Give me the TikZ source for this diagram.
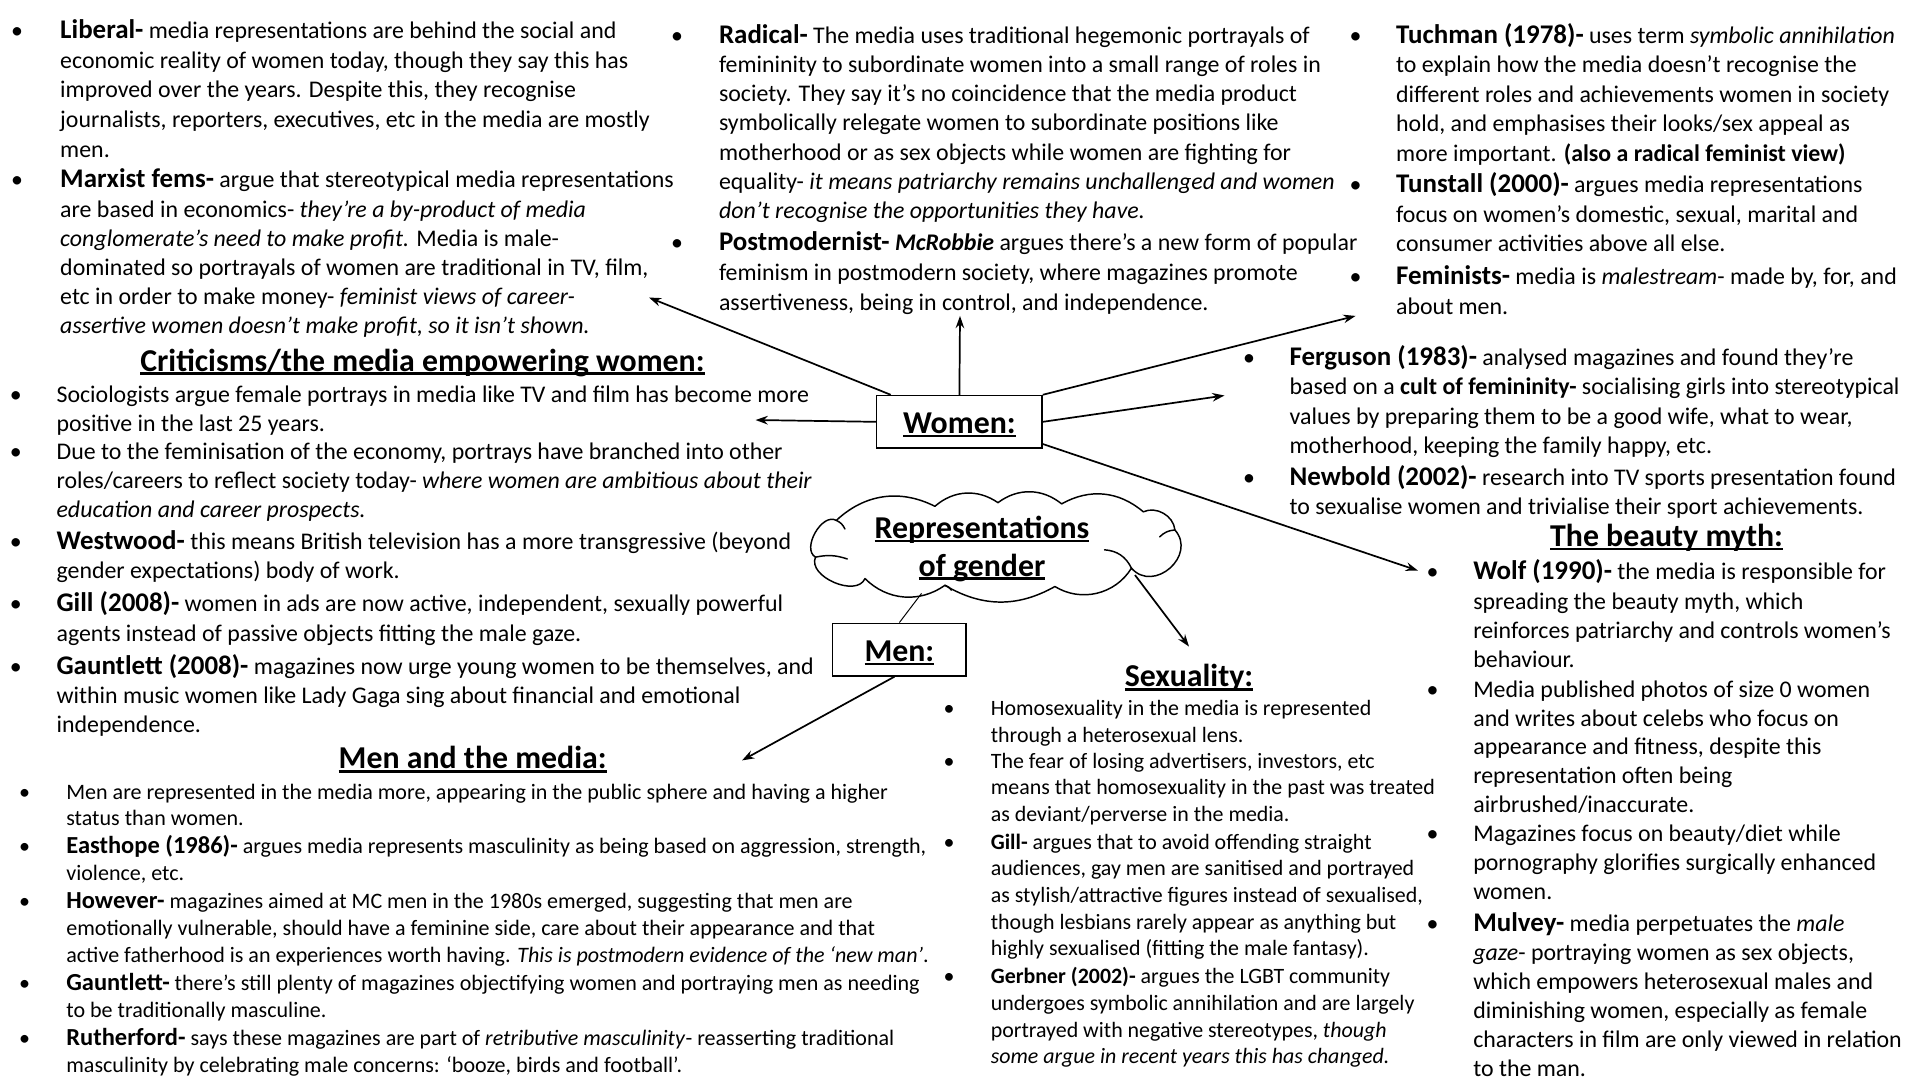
\documentclass[tikz,border=0pt]{standalone}
\usepackage{fontspec}
\setmainfont{Carlito}
\usetikzlibrary{arrows.meta}

\newcommand\LN[1]{\hbox{#1}}
\newcommand\ulx[1]{\setbox0\hbox{#1}\rlap{\rule[-0.12em]{\wd0}{0.075em}}\box0}
\newcommand\bh[1]{{\fontsize{22}{26}\selectfont\bfseries #1}}
\newcommand\bhm[1]{{\fontsize{20}{24}\selectfont\bfseries #1}}
\newcommand\bitem[7]{%
 \node[#1,anchor=base] (#2b) at (#3,{#5+1.5}) {\textbullet};
 \node[#1,anchor=base west] (#2) at (#4,{#5+1.5}) {\vtop{\baselineskip=#6pt\lineskiplimit=-\maxdimen\lineskip=0pt\relax #7}};}

\tikzset{
 body/.style={inner sep=0pt, font=\fontsize{19.5}{24}\selectfont},
 sexb/.style={inner sep=0pt, font=\fontsize{17.9}{21.8}\selectfont},
 menb/.style={inner sep=0pt, font=\fontsize{18}{22}\selectfont},
 head/.style={inner sep=0pt, font=\fontsize{26}{31}\selectfont\bfseries},
 box/.style={draw, line width=1.2pt, inner sep=0pt, text height=19pt, text depth=0pt, font=\fontsize{26}{31}\selectfont\bfseries},
 arr/.style={line width=1.4pt, -{Stealth[length=10pt,width=7pt]}},
 cloudline/.style={line width=1.2pt, line cap=round, line join=round},
}

\begin{document}
\begin{tikzpicture}[x=1pt, y=-1pt]
\fill[white] (0,0) rectangle (1568,882);
\useasboundingbox (0,0) rectangle (1568,882);

% ---------- top left
\bitem{body}{lib}{14}{49}{30}{24.2}{\LN{\bh{Liberal-} media representations are behind the social and}\LN{economic reality of women today, though they say this has}\LN{improved over the years. Despite this, they recognise}\LN{journalists, reporters, executives, etc in the media are mostly}\LN{men.}}
\bitem{body}{marx}{14}{49}{152}{23.8}{\LN{\bh{Marxist fems-} argue that stereotypical media representations}\LN{are based in economics- \textit{they’re a by-product of media}}\LN{\textit{conglomerate’s need to make profit.} Media is male-}\LN{dominated so portrayals of women are traditional in TV, film,}\LN{etc in order to make money- \textit{feminist views of career-}}\LN{\textit{assertive women doesn’t make profit, so it isn’t shown.}}}

% ---------- top middle
\bitem{body}{rad}{553}{587}{34}{23.8}{\LN{\bh{Radical-} The media uses traditional hegemonic portrayals of}\LN{femininity to subordinate women into a small range of roles in}\LN{society. They say it’s no coincidence that the media product}\LN{symbolically relegate women to subordinate positions like}\LN{motherhood or as sex objects while women are fighting for}\LN{equality- \textit{it means patriarchy remains unchallenged and women}}\LN{\textit{don’t recognise the opportunities they have.}}}
\bitem{body}{pomo}{553}{587}{203}{24.5}{\LN{\bh{Postmodernist-} \textbf{\textit{McRobbie}} argues there’s a new form of popular}\LN{feminism in postmodern society, where magazines promote}\LN{assertiveness, being in control, and independence.}}

% ---------- top right
\bitem{body}{tuch}{1107}{1140}{34}{24}{\LN{\bh{Tuchman (1978)-} uses term \textit{symbolic annihilation}}\LN{to explain how the media doesn’t recognise the}\LN{different roles and achievements women in society}\LN{hold, and emphasises their looks/sex appeal as}\LN{more important. \textbf{(also a radical feminist view)}}}
\bitem{body}{tun}{1107}{1140}{156}{24}{\LN{\bh{Tunstall (2000)-} argues media representations}\LN{focus on women’s domestic, sexual, marital and}\LN{consumer activities above all else.}}
\bitem{body}{fem}{1107}{1140}{231}{24}{\LN{\bh{Feminists-} media is \textit{malestream}- made by, for, and}\LN{about men.}}

% ---------- Ferguson / Newbold
\bitem{body}{ferg}{1020}{1053}{297}{24}{\LN{\bh{Ferguson (1983)-} analysed magazines and found they’re}\LN{based on a \textbf{cult of femininity-} socialising girls into stereotypical}\LN{values by preparing them to be a good wife, what to wear,}\LN{motherhood, keeping the family happy, etc.}}
\bitem{body}{newb}{1020}{1053}{395}{24}{\LN{\bh{Newbold (2002)-} research into TV sports presentation found}\LN{to sexualise women and trivialise their sport achievements.}}

% ---------- Criticisms
\node[head,anchor=base] (crit) at (345,303) {\ulx{Criticisms/the media empowering women:}};
\bitem{body}{cr1}{13}{46}{327}{24}{\LN{Sociologists argue female portrays in media like TV and film has become more}\LN{positive in the last 25 years.}}
\bitem{body}{cr2}{13}{46}{374}{23.5}{\LN{Due to the feminisation of the economy, portrays have branched into other}\LN{roles/careers to reflect society today- \textit{where women are ambitious about their}}\LN{\textit{education and career prospects.}}}
\bitem{body}{west}{13}{46}{447}{24}{\LN{\bh{Westwood-} this means British television has a more transgressive (beyond}\LN{gender expectations) body of work.}}
\bitem{body}{gill}{13}{46}{498}{24}{\LN{\bh{Gill (2008)-} women in ads are now active, independent, sexually powerful}\LN{agents instead of passive objects fitting the male gaze.}}
\bitem{body}{gaunt}{13}{46}{549}{24}{\LN{\bh{Gauntlett (2008)-} magazines now urge young women to be themselves, and}\LN{within music women like Lady Gaga sing about financial and emotional}\LN{independence.}}

% ---------- Men and the media
\node[head,anchor=base] (menhd) at (386,628) {\ulx{Men and the media:}};
\bitem{menb}{m1}{20}{54}{651.5}{21.5}{\LN{Men are represented in the media more, appearing in the public sphere and having a higher}\LN{status than women.}}
\bitem{menb}{m2}{20}{54}{695.5}{22}{\LN{\bhm{Easthope (1986)-} argues media represents masculinity as being based on aggression, strength,}\LN{violence, etc.}}
\bitem{menb}{m3}{20}{54}{740.5}{22}{\LN{\bhm{However-} magazines aimed at MC men in the 1980s emerged, suggesting that men are}\LN{emotionally vulnerable, should have a feminine side, care about their appearance and that}\LN{active fatherhood is an experiences worth having. \textit{This is postmodern evidence of the ‘new man’}.}}
\bitem{menb}{m4}{20}{54}{807.5}{22}{\LN{\bhm{Gauntlett-} there’s still plenty of magazines objectifying women and portraying men as needing}\LN{to be traditionally masculine.}}
\bitem{menb}{m5}{20}{54}{852.5}{22}{\LN{\bhm{Rutherford-} says these magazines are part of \textit{retributive masculinity}- reasserting traditional}\LN{masculinity by celebrating male concerns: ‘booze, birds and football’.}}

% ---------- Sexuality
\node[head,anchor=base] (sexhd) at (971,561) {\ulx{Sexuality:}};
\bitem{sexb}{s1}{775}{809}{583}{21.5}{\LN{Homosexuality in the media is represented}\LN{through a heterosexual lens.}}
\bitem{sexb}{s2}{775}{809}{626}{21.5}{\LN{The fear of losing advertisers, investors, etc}\LN{means that homosexuality in the past was treated}\LN{as deviant/perverse in the media.}}
\bitem{sexb}{s3}{775}{809}{692}{21.8}{\LN{\textbf{Gill-} argues that to avoid offending straight}\LN{audiences, gay men are sanitised and portrayed}\LN{as stylish/attractive figures instead of sexualised,}\LN{though lesbians rarely appear as anything but}\LN{highly sexualised (fitting the male fantasy).}}
\bitem{sexb}{s4}{775}{809}{802}{21.7}{\LN{\textbf{Gerbner (2002)-} argues the LGBT community}\LN{undergoes symbolic annihilation and are largely}\LN{portrayed with negative stereotypes, \textit{though}}\LN{\textit{some argue in recent years this has changed.}}}

% ---------- Beauty myth
\node[head,anchor=base] (beauhd) at (1361,446) {\ulx{The beauty myth:}};
\bitem{body}{w1}{1170}{1203}{472}{24}{\LN{\bh{Wolf (1990)-} the media is responsible for}\LN{spreading the beauty myth, which}\LN{reinforces patriarchy and controls women’s}\LN{behaviour.}}
\bitem{body}{w2}{1170}{1203}{568}{23.5}{\LN{Media published photos of size 0 women}\LN{and writes about celebs who focus on}\LN{appearance and fitness, despite this}\LN{representation often being}\LN{airbrushed/inaccurate.}}
\bitem{body}{w3}{1170}{1203}{686}{23.5}{\LN{Magazines focus on beauty/diet while}\LN{pornography glorifies surgically enhanced}\LN{women.}}
\bitem{body}{w4}{1170}{1203}{759}{23.8}{\LN{\bh{Mulvey-} media perpetuates the \textit{male}}\LN{\textit{gaze}- portraying women as sex objects,}\LN{which empowers heterosexual males and}\LN{diminishing women, especially as female}\LN{characters in film are only viewed in relation}\LN{to the man.}}

% ---------- central shapes
\node[box, minimum width=135pt, minimum height=43pt] (women) at (783.5,344.5) {\ulx{Women:}};
\node[box, minimum width=109pt, minimum height=43pt] (men) at (734.5,530.5) {\ulx{Men:}};

% cloud outline (drawn as puffs)
\draw[cloudline] (666,455) to[bend left=90] (683,425) to[bend left=35] (763.5,413.5)
  to[bend left=38] (815,410.5) to[bend left=38] (867,411.5) to[bend left=35] (933.7,418)
  to[bend left=55] (959.5,432.8) to[bend left=90, looseness=1.5] (924,464)
  to[bend left=45] (861.5,479) to[bend left=30] (771.7,478) to[bend left=40] (706.4,472.5)
  to[bend left=90] (666,455);
% inner puff marks
\draw[cloudline] (666,455) to[bend left=15] (692,456.5);
\draw[cloudline] (902,449) to[bend left=30] (924,464);
\draw[cloudline] (959.5,432.8) to[bend right=20] (947,438.5);
\draw[cloudline] (771.7,478) to[bend left=20] (777,482);
\draw[cloudline] (683,425) to[bend left=20] (690,432);
\node[minimum width=310pt, minimum height=86pt, inner sep=0pt] (cloud) at (813,447) {};
\node[head, align=center] (rep) at (802,448) {\ulx{Representations}\\\ulx{of gender}};

% ---------- target points
\coordinate (tMarx) at (530,243);
\coordinate (tPomo) at (784,258);
\coordinate (tFem) at (1107,258);
\coordinate (tFerg) at (1000,323);
\coordinate (tCrit) at (617,343);
\coordinate (tBeau) at (1158,466);
\coordinate (tSex) at (971,528);
\coordinate (tMen) at (606,621);

% ---------- connectors
\draw[arr] ([xshift=12pt]women.north west) -- (tMarx);
\draw[arr] (women.north) -- (tPomo);
\draw[arr] (women.north east) -- (tFem);
\draw[arr] (women.east) -- (tFerg);
\draw[arr] (women.west) -- (tCrit);
\draw[arr] ([yshift=4pt]women.south east) -- (tBeau);
\draw[arr] ([shift={(113.9pt,-22.6pt)}]cloud.center) -- (tSex);
\draw[line width=0.8pt] ([shift={(-60.4pt,-37.6pt)}]cloud.center) -- (men.north);
\draw[arr] ([xshift=-4pt]men.south) -- (tMen);
\end{tikzpicture}
\end{document}
